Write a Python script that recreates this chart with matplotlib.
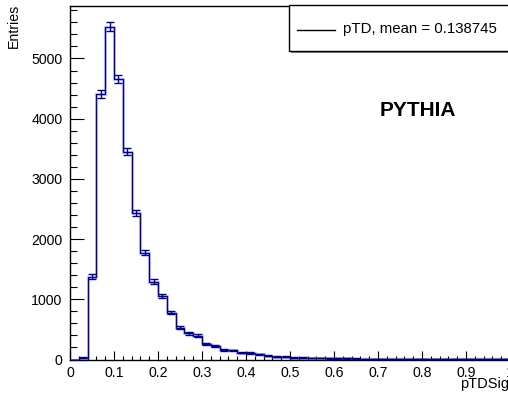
import numpy as np
import matplotlib
matplotlib.use("Agg")
import matplotlib.pyplot as plt
from matplotlib.patches import Rectangle
from matplotlib.lines import Line2D
from matplotlib.ticker import MultipleLocator

plt.rcParams['font.family'] = ['Liberation Sans', 'DejaVu Sans']

# ---- data ----
bin_edges = np.linspace(0.0, 1.0, 51)
counts = [0, 30, 1375, 4415, 5528, 4659, 3452, 2428, 1775, 1293,
          1060, 778, 529, 435, 396, 257, 219, 160, 150, 115,
          110, 88, 64, 47, 45, 30, 29, 25, 23, 21,
          19, 17, 15, 13, 12, 10, 9, 8, 7, 6,
          6, 5, 5, 4, 4, 3, 3, 3, 2, 2]
legend_label = "pTD, mean = 0.138745"
x_title = "pTDSig"
y_title = "Entries"
annotation = "PYTHIA"
x_ticks = [0, 0.1, 0.2, 0.3, 0.4, 0.5, 0.6, 0.7, 0.8, 0.9, 1]
x_ticklabels = ["0", "0.1", "0.2", "0.3", "0.4", "0.5", "0.6", "0.7", "0.8", "0.9", "1"]
y_ticks = [0, 1000, 2000, 3000, 4000, 5000]

counts = np.array(counts, dtype=float)
centers = 0.5 * (bin_edges[:-1] + bin_edges[1:])
errors = np.sqrt(counts)

W, H = 508, 397
fig = plt.figure(figsize=(W / 100, H / 100), dpi=100)

def fx(px):
    return px / W

def fy(py):
    return (H - py) / H

ax_left, ax_right, ax_top, ax_bottom = 70, 510, 5.5, 359.5
ax = fig.add_axes([fx(ax_left), fy(ax_bottom), (ax_right - ax_left) / W, (ax_bottom - ax_top) / H])

line_col = '#00008f'
ax.stairs(counts, bin_edges, baseline=0, color='#8080d4', lw=2.2, alpha=0.4, zorder=2)
ax.stairs(counts, bin_edges, baseline=0, color=line_col, lw=0.95, zorder=3)
ax.errorbar(centers, counts, yerr=errors, fmt='none', ecolor=line_col,
            elinewidth=1.0, capsize=3.0, capthick=1.0, zorder=4)

ax.set_xlim(0, 1)
ax.set_ylim(0, 5880)

ax.set_xticks(x_ticks)
ax.set_xticklabels(x_ticklabels)
ax.set_yticks(y_ticks)
ax.xaxis.set_minor_locator(MultipleLocator(0.02))
ax.yaxis.set_minor_locator(MultipleLocator(200))
ax.tick_params(axis='both', which='both', direction='in', labelsize=10.2, colors='black')
ax.tick_params(axis='x', which='major', length=6.6, width=0.8, pad=5)
ax.tick_params(axis='x', which='minor', length=3.2, width=0.8)
ax.tick_params(axis='y', which='major', length=10, width=0.8, pad=5.5)
ax.tick_params(axis='y', which='minor', length=5, width=0.8)
for s in ax.spines.values():
    s.set_linewidth(1.0)
    s.set_color('black')

# axis titles
fig.text(fx(14), fy(4), y_title, rotation=90, ha='center', va='top', fontsize=10.2)
fig.text(fx(509), fy(384), x_title, ha='right', va='center', fontsize=10.5)

# PYTHIA label
fig.text(fx(418), fy(110), annotation, ha='center', va='center', fontsize=15, fontweight='bold')

# legend box (ROOT style with shadow)
lx0, lx1, ly0, ly1 = 289, 520, 5, 51
fig.patches.append(Rectangle((fx(lx0 + 2), fy(ly1 + 2)), (lx1 - lx0) / W, (ly1 - ly0) / H,
                             transform=fig.transFigure, facecolor='#8a8a8a', edgecolor='none', zorder=5))
fig.patches.append(Rectangle((fx(lx0), fy(ly1)), (lx1 - lx0) / W, (ly1 - ly0) / H,
                             transform=fig.transFigure, facecolor='white', edgecolor='black', lw=1.0, zorder=6))
fig.lines.append(Line2D([fx(297), fx(335)], [fy(29.5), fy(29.5)], transform=fig.transFigure,
                        color='black', lw=1.0, zorder=7))
fig.text(fx(343), fy(29.5), legend_label, ha='left', va='center', fontsize=10.8, zorder=8)

fig.savefig("out.png", dpi=100)
